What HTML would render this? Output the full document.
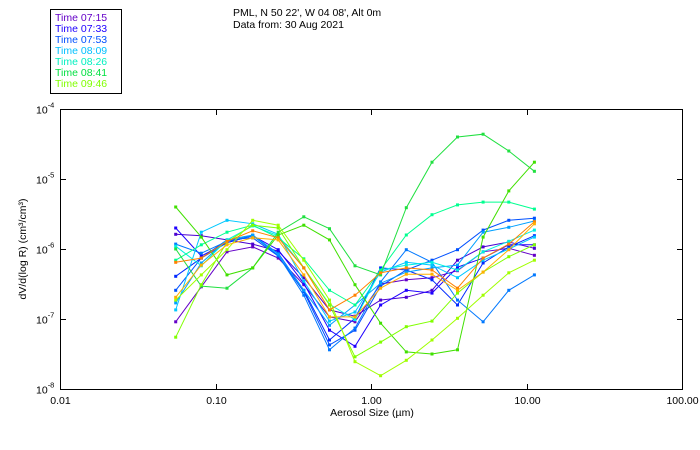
<!DOCTYPE html>
<html><head><meta charset="utf-8"><style>
body{margin:0;background:#fff;}
svg{display:block;font-family:"Liberation Sans",sans-serif;}
</style></head><body>
<svg id="chart" width="700" height="450" viewBox="0 0 700 450">
<rect width="700" height="450" fill="#fff"/>
<g>
<rect x="50.5" y="9.5" width="71" height="84" fill="#fff" stroke="#000" stroke-width="1"/>
<g id="legend-items" font-size="10.5"></g>
</g>
<text x="233" y="16" font-size="10.5" fill="#000">PML, N 50 22', W 04 08', Alt 0m</text>
<text x="233" y="28" font-size="10.5" fill="#000">Data from: 30 Aug 2021</text>
<rect x="60.5" y="109.5" width="622" height="280" fill="none" stroke="#000" stroke-width="1"/>
<g id="axes"></g>
<g id="series"></g>
<text x="372" y="416" font-size="10.5" text-anchor="middle">Aerosol Size (µm)</text>
<text transform="translate(26,249) rotate(-90)" font-size="10.5" text-anchor="middle">dV/d(log R) (cm³/cm³)</text>
</svg>
<script>
const sizesLog = [-1.256,-1.091,-0.926,-0.761,-0.597,-0.432,-0.267,-0.103,0.062,0.227,0.392,0.556,0.721,0.886,1.051];
const legendLabels = ["Time 07:15","Time 07:33","Time 07:53","Time 08:09","Time 08:26","Time 08:41","Time 09:46"];
const legendColors = ["#6400c8","#1e00ff","#0050ff","#00c0ff","#00f0c0","#00e040","#80ff00"];
const xTicks = [0.01,0.1,1,10,100];
const xTickLabels = ["0.01","0.10","1.00","10.00","100.00"];
const yTicksExp = [-4,-5,-6,-7,-8];
const seriesColors = ["#6400c8","#4b00d2","#1e00ff","#0028ff","#0050ff","#0078ff","#00a0ff","#00c8ff","#00f0e0","#00ff90","#20e040","#40e000","#80ff00","#a0ff00","#ff8000","#ffb000"];
const s1 = [-7.04,-6.54,-6.04,-5.97,-6.13,-6.51,-6.97,-7.04,-6.50,-6.44,-6.41,-6.31,-6.04,-5.99,-6.09];
const s2 = [-5.79,-5.81,-5.87,-5.93,-6.03,-6.41,-6.87,-6.96,-6.73,-6.69,-6.59,-6.16,-5.97,-5.90,-5.99];
const s3 = [-5.70,-6.10,-5.91,-5.81,-6.01,-6.49,-7.16,-7.39,-6.80,-6.59,-6.63,-6.26,-6.13,-5.94,-5.94];
const s4 = [-6.39,-6.13,-5.91,-5.81,-6.06,-6.59,-7.30,-6.99,-6.27,-6.30,-6.44,-6.80,-6.20,-5.97,-5.81];
const s5 = [-6.59,-6.13,-5.87,-5.84,-6.10,-6.61,-7.37,-7.16,-6.53,-6.30,-6.16,-6.01,-5.73,-5.59,-5.56];
const s6 = [-5.93,-6.06,-5.89,-5.81,-6.09,-6.66,-7.44,-7.13,-6.47,-6.01,-6.19,-6.73,-7.04,-6.59,-6.37];
const s7 = [-6.77,-6.20,-5.87,-5.80,-6.07,-6.59,-7.09,-6.80,-6.49,-6.33,-6.27,-6.23,-5.76,-5.69,-5.60];
const s8 = [-6.87,-5.76,-5.59,-5.64,-5.79,-6.46,-7.03,-6.90,-6.33,-6.19,-6.23,-6.41,-6.16,-6.00,-5.83];
const s9 = [-5.96,-6.24,-5.87,-5.67,-5.81,-6.27,-6.79,-7.01,-6.30,-6.23,-6.19,-6.30,-6.04,-5.89,-5.73];
const s10 = [-6.16,-5.94,-5.76,-5.66,-5.84,-6.14,-6.59,-6.80,-6.30,-5.80,-5.51,-5.37,-5.33,-5.33,-5.43];
const s11 = [-6.00,-6.53,-6.56,-6.27,-5.76,-5.54,-5.71,-6.24,-6.37,-5.41,-4.76,-4.40,-4.36,-4.60,-4.89];
const s12 = [-5.40,-5.83,-6.37,-6.27,-5.80,-5.66,-5.87,-6.51,-7.06,-7.47,-7.50,-7.44,-5.83,-5.17,-4.76];
const s13 = [-7.26,-6.51,-5.90,-5.66,-5.70,-6.27,-6.80,-7.54,-7.33,-7.11,-7.03,-6.63,-6.33,-6.11,-5.94];
const s14 = [-6.73,-6.37,-6.01,-5.59,-5.66,-6.16,-6.73,-7.61,-7.81,-7.59,-7.30,-6.99,-6.66,-6.34,-6.16];
const s15 = [-6.19,-6.13,-5.89,-5.74,-5.84,-6.27,-6.87,-6.66,-6.34,-6.27,-6.30,-6.56,-6.13,-5.93,-5.61];
const s16 = [-6.69,-6.23,-5.94,-5.84,-5.87,-6.37,-6.97,-6.97,-6.56,-6.36,-6.36,-6.59,-6.33,-6.01,-5.64];
const allSeries = [s1,s2,s3,s4,s5,s6,s7,s8,s9,s10,s11,s12,s13,s14,s15,s16];

const NS = "http://www.w3.org/2000/svg";
const X0 = 60, XDEC = 155.5, Y0 = 109, YDEC = 70;
function xScale(logv){ return X0 + (logv + 2) * XDEC; }
function yScale(e){ return Y0 + (-4 - e) * YDEC; }
function mk(tag, attrs, parent){ const el = document.createElementNS(NS, tag); for (const k in attrs) el.setAttribute(k, attrs[k]); parent.appendChild(el); return el; }

const axes = document.getElementById("axes");
xTicks.forEach((t, i) => {
  const x = Math.round(xScale(Math.log10(t))) + 0.5;
  const tk = mk("line", {x1:x, x2:x, y1:389, y2:384, stroke:"#000"}, axes);
  
  
  const tk2 = mk("line", {x1:x, x2:x, y1:110, y2:115, stroke:"#000"}, axes);
  
  
  const lb = mk("text", {x:x, y:404, "font-size":"10.5", "text-anchor":"middle"}, axes);
  lb.textContent = xTickLabels[i];
  
  
});
yTicksExp.forEach(e => {
  const y = Math.round(yScale(e)) + 0.5;
  const tk = mk("line", {x1:61, x2:66, y1:y, y2:y, stroke:"#000"}, axes);
  
  
  const tk2 = mk("line", {x1:677, x2:682, y1:y, y2:y, stroke:"#000"}, axes);
  
  
  const lb = mk("text", {x:36, y:y + 4, "font-size":"10.5"}, axes);
  
  
  const t1 = mk("tspan", {}, lb); t1.textContent = "10";
  const t2 = mk("tspan", {dy:"-6", "font-size":"7.5"}, lb); t2.textContent = String(e);
});

const lg = document.getElementById("legend-items");
legendLabels.forEach((l, i) => {
  const t = mk("text", {x:55, y:21 + i * 11, fill:legendColors[i]}, lg);
  t.textContent = l;
  
  
});

const sg = document.getElementById("series");
allSeries.forEach((s, si) => {
  const g = mk("g", {}, sg);
  
  
  const pts = s.map((v, i) => xScale(sizesLog[i]).toFixed(1) + "," + yScale(v).toFixed(1)).join(" ");
  const pl = mk("polyline", {points:pts, fill:"none", stroke:seriesColors[si], "stroke-width":"1"}, g);
  
  
  s.forEach((v, i) => {
    const r = mk("rect", {x:(xScale(sizesLog[i]) - 1.5).toFixed(1), y:(yScale(v) - 1.5).toFixed(1), width:3, height:3, fill:seriesColors[si]}, g);
    
    
  });
});
</script>
</body></html>
